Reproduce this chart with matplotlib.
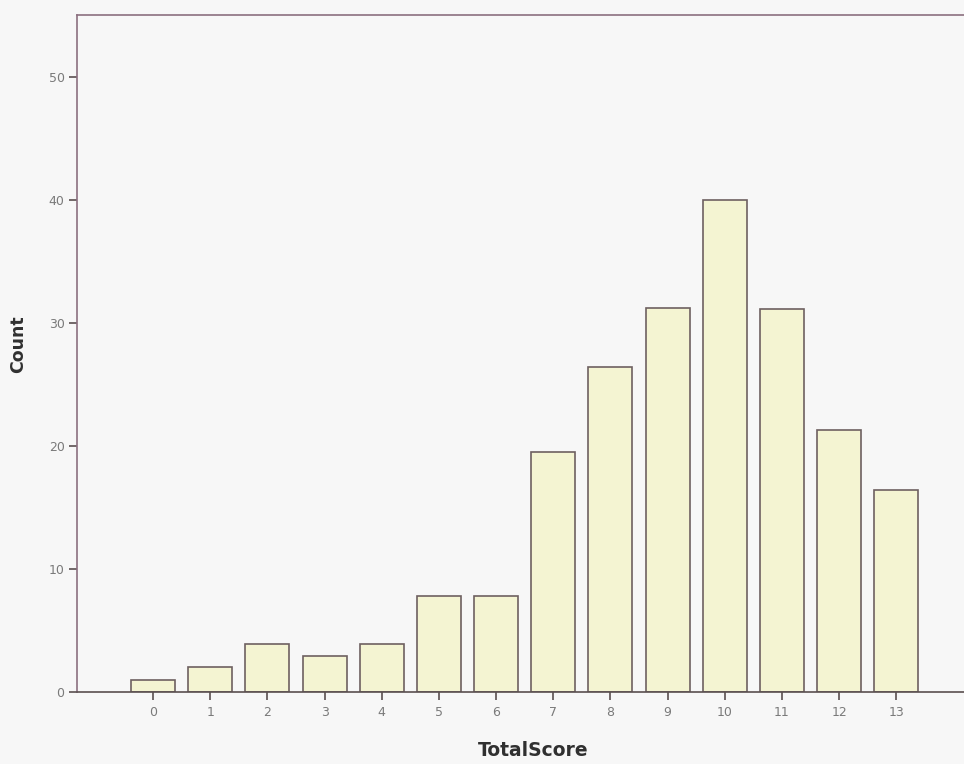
import matplotlib
matplotlib.use("Agg")
import matplotlib.pyplot as plt

scores = list(range(14))
counts = [1.0, 2.0, 3.9, 2.9, 3.9, 7.8, 7.8, 19.5, 26.4, 31.2, 40.0, 31.1, 21.3, 16.4]
tick_labels = [str(s) for s in scores]
y_ticks = [0, 10, 20, 30, 40, 50]

bg = "#f7f7f7"
fig = plt.figure(figsize=(9.64, 7.64), dpi=100, facecolor=bg)
ax = fig.add_axes([77/964, 1 - 692/764, 1 - 77/964 + 0.001, 677/764])
ax.set_facecolor(bg)

ax.bar(scores, counts, width=0.77, color="#f4f4d2", edgecolor="#6e6060", linewidth=1.2, zorder=2)

ax.set_xlim(-1.33, 14.2)
ax.set_ylim(0, 55)
ax.set_xticks(scores)
ax.set_xticklabels(tick_labels)
ax.set_yticks(y_ticks)

spine_col = "#8c7080"
for s in ["left", "top", "bottom"]:
    ax.spines[s].set_color(spine_col)
    ax.spines[s].set_linewidth(1.2)
ax.spines["bottom"].set_color("#5a5050")
ax.spines["right"].set_visible(False)

ax.tick_params(axis="both", colors="#7a7a7a", labelsize=9, length=6, width=1.2)
ax.tick_params(axis="x", color="#5a5050", pad=4)
ax.tick_params(axis="y", color="#5a5050", pad=3)

fig.text(533/964, 1 - 751/764, "TotalScore", ha="center", va="center",
         fontsize=13.5, fontweight="bold", color="#303030")
fig.text(18/964, 1 - 344/764, "Count", ha="center", va="center", rotation=90,
         fontsize=12.5, fontweight="bold", color="#303030")

fig.savefig("out.png", dpi=100, facecolor=bg)
